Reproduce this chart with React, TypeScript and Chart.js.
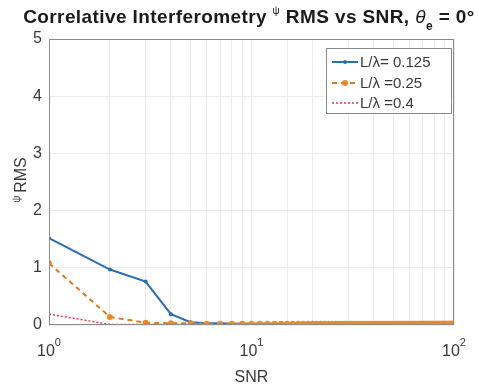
import React, { useEffect, useRef } from "react";
import { Chart, registerables } from "chart.js";

Chart.register(...registerables);

const snr = [
  1, 2, 3, 4, 5, 6, 7, 8, 9, 10, 11, 12, 13, 14, 15, 16, 17, 18, 19, 20,
  21, 22, 23, 24, 25, 26, 27, 28, 29, 30, 31, 32, 33, 34, 35, 36, 37, 38, 39, 40,
  41, 42, 43, 44, 45, 46, 47, 48, 49, 50, 51, 52, 53, 54, 55, 56, 57, 58, 59, 60,
  61, 62, 63, 64, 65, 66, 67, 68, 69, 70, 71, 72, 73, 74, 75, 76, 77, 78, 79, 80,
  81, 82, 83, 84, 85, 86, 87, 88, 89, 90, 91, 92, 93, 94, 95, 96, 97, 98, 99, 100,
];

const rmsL0125 = [
  1.52, 0.97, 0.76, 0.19, 0.05, 0.03, 0.03, 0.02, 0.02, 0.02, 0.02, 0.02, 0.02, 0.02, 0.02, 0.02, 0.02, 0.02, 0.02, 0.02,
  0.02, 0.02, 0.02, 0.02, 0.02, 0.02, 0.02, 0.02, 0.02, 0.02, 0.02, 0.02, 0.02, 0.02, 0.02, 0.02, 0.02, 0.02, 0.02, 0.02,
  0.02, 0.02, 0.02, 0.02, 0.02, 0.02, 0.02, 0.02, 0.02, 0.02, 0.02, 0.02, 0.02, 0.02, 0.02, 0.02, 0.02, 0.02, 0.02, 0.02,
  0.02, 0.02, 0.02, 0.02, 0.02, 0.02, 0.02, 0.02, 0.02, 0.02, 0.02, 0.02, 0.02, 0.02, 0.02, 0.02, 0.02, 0.02, 0.02, 0.02,
  0.02, 0.02, 0.02, 0.02, 0.02, 0.02, 0.02, 0.02, 0.02, 0.02, 0.02, 0.02, 0.02, 0.02, 0.02, 0.02, 0.02, 0.02, 0.02, 0.02,
];

const rmsL025 = [
  1.08, 0.14, 0.04, 0.03, 0.03, 0.02, 0.02, 0.02, 0.02, 0.02, 0.02, 0.02, 0.02, 0.02, 0.02, 0.02, 0.02, 0.02, 0.02, 0.02,
  0.02, 0.02, 0.02, 0.02, 0.02, 0.02, 0.02, 0.02, 0.02, 0.02, 0.02, 0.02, 0.02, 0.02, 0.02, 0.02, 0.02, 0.02, 0.02, 0.02,
  0.02, 0.02, 0.02, 0.02, 0.02, 0.02, 0.02, 0.02, 0.02, 0.02, 0.02, 0.02, 0.02, 0.02, 0.02, 0.02, 0.02, 0.02, 0.02, 0.02,
  0.02, 0.02, 0.02, 0.02, 0.02, 0.02, 0.02, 0.02, 0.02, 0.02, 0.02, 0.02, 0.02, 0.02, 0.02, 0.02, 0.02, 0.02, 0.02, 0.02,
  0.02, 0.02, 0.02, 0.02, 0.02, 0.02, 0.02, 0.02, 0.02, 0.02, 0.02, 0.02, 0.02, 0.02, 0.02, 0.02, 0.02, 0.02, 0.02, 0.02,
];

const rmsL04 = [
  0.19, 0.01, 0.01, 0.01, 0.01, 0.01, 0.01, 0.01, 0.01, 0.01, 0.01, 0.01, 0.01, 0.01, 0.01, 0.01, 0.01, 0.01, 0.01, 0.01,
  0.01, 0.01, 0.01, 0.01, 0.01, 0.01, 0.01, 0.01, 0.01, 0.01, 0.01, 0.01, 0.01, 0.01, 0.01, 0.01, 0.01, 0.01, 0.01, 0.01,
  0.01, 0.01, 0.01, 0.01, 0.01, 0.01, 0.01, 0.01, 0.01, 0.01, 0.01, 0.01, 0.01, 0.01, 0.01, 0.01, 0.01, 0.01, 0.01, 0.01,
  0.01, 0.01, 0.01, 0.01, 0.01, 0.01, 0.01, 0.01, 0.01, 0.01, 0.01, 0.01, 0.01, 0.01, 0.01, 0.01, 0.01, 0.01, 0.01, 0.01,
  0.01, 0.01, 0.01, 0.01, 0.01, 0.01, 0.01, 0.01, 0.01, 0.01, 0.01, 0.01, 0.01, 0.01, 0.01, 0.01, 0.01, 0.01, 0.01, 0.01,
];

const seriesLabels = ["L/\u03bb= 0.125", "L/\u03bb =0.25", "L/\u03bb =0.4"];
const yTicks = [0, 1, 2, 3, 4, 5];
const xDecades = [0, 1, 2];

const FONT = "'Liberation Sans', Arial, sans-serif";
const TEXT = "#3a3a3a";

const decorPlugin = {
  id: "decor",
  afterDraw(chart: any) {
    const ctx = chart.ctx as CanvasRenderingContext2D;
    const area = chart.chartArea;
    const xs = chart.scales.x;
    ctx.save();

    // axis box
    ctx.strokeStyle = "#8a8a8a";
    ctx.lineWidth = 1;
    ctx.strokeRect(area.left + 0.5, area.top + 0.5, area.right - area.left - 1, area.bottom - area.top - 1);

    // title
    ctx.fillStyle = "#1a1a1a";
    ctx.textBaseline = "alphabetic";
    (ctx as any).letterSpacing = "0.4px";
    const bold = (s: number) => `bold ${s}px ${FONT}`;
    const parts: { t: string; f: string; dy: number }[] = [
      { t: "Correlative Interferometry ", f: bold(19), dy: 0 },
      { t: "\u03c8", f: `${10}px ${FONT}`, dy: -9 },
      { t: " RMS vs SNR, ", f: bold(19), dy: 0 },
      { t: "\u03b8", f: `italic 19px ${FONT}`, dy: 0 },
      { t: "e", f: bold(12), dy: 7 },
      { t: " = 0\u00b0", f: bold(19), dy: 0 },
    ];
    let total = 0;
    for (const p of parts) {
      ctx.font = p.f;
      total += ctx.measureText(p.t).width;
    }
    let tx = 249 - total / 2;
    const ty = 23;
    ctx.textAlign = "left";
    for (const p of parts) {
      ctx.font = p.f;
      ctx.fillText(p.t, tx, ty + p.dy);
      tx += ctx.measureText(p.t).width;
    }
    (ctx as any).letterSpacing = "0px";

    // x tick labels 10^n
    ctx.fillStyle = TEXT;
    for (const d of xDecades) {
      const px = xs.getPixelForValue(Math.pow(10, d));
      ctx.font = `16px ${FONT}`;
      const bw = ctx.measureText("10").width;
      ctx.font = `11px ${FONT}`;
      const ew = ctx.measureText(String(d)).width;
      const sx = px - (bw + ew) / 2;
      ctx.font = `16px ${FONT}`;
      ctx.fillText("10", sx, 356);
      ctx.font = `11px ${FONT}`;
      ctx.fillText(String(d), sx + bw, 346);
    }

    // x axis title
    ctx.font = `16px ${FONT}`;
    ctx.textAlign = "center";
    ctx.fillText("SNR", (area.left + area.right) / 2, 382);

    // y axis title
    ctx.save();
    ctx.translate(26, 180);
    ctx.rotate(-Math.PI / 2);
    ctx.font = `10px ${FONT}`;
    const pw = ctx.measureText("\u03c8 ").width;
    ctx.font = `16px ${FONT}`;
    const rw = ctx.measureText("RMS").width;
    const yx = -(pw + rw) / 2;
    ctx.textAlign = "left";
    ctx.font = `10px ${FONT}`;
    ctx.fillText("\u03c8 ", yx, -6);
    ctx.font = `16px ${FONT}`;
    ctx.fillText("RMS", yx + pw, 0);
    ctx.restore();

    // legend
    const lx = 326, ly = 48, lw = 125, lh = 65;
    ctx.fillStyle = "#ffffff";
    ctx.fillRect(lx, ly, lw, lh);
    ctx.strokeStyle = "#8a8a8a";
    ctx.lineWidth = 1;
    ctx.strokeRect(lx + 0.5, ly + 0.5, lw, lh);
    const rows = [62, 83, 103];
    chart.data.datasets.forEach((ds: any, i: number) => {
      const y = rows[i];
      ctx.strokeStyle = ds.borderColor;
      ctx.lineWidth = ds.borderWidth;
      ctx.setLineDash(ds.borderDash || []);
      ctx.beginPath();
      ctx.moveTo(332, y);
      ctx.lineTo(358, y);
      ctx.stroke();
      ctx.setLineDash([]);
      if (ds.pointRadius > 0) {
        ctx.fillStyle = ds.pointBackgroundColor;
        ctx.beginPath();
        ctx.arc(345, y, ds.pointRadius, 0, Math.PI * 2);
        ctx.fill();
      }
      ctx.fillStyle = TEXT;
      ctx.font = `15px ${FONT}`;
      ctx.textAlign = "left";
      ctx.textBaseline = "middle";
      ctx.fillText(ds.label, 360, y + 1);
      ctx.textBaseline = "alphabetic";
    });

    ctx.restore();
  },
};

export default function App() {
  const ref = useRef<HTMLCanvasElement | null>(null);

  useEffect(() => {
    document.body.style.margin = "0";
    const canvas = ref.current;
    if (!canvas) return;
    const mk = (ys: number[]) => snr.map((x, i) => ({ x, y: ys[i] }));
    const chart = new Chart(canvas, {
      type: "line",
      data: {
        datasets: [
          {
            label: seriesLabels[0],
            data: mk(rmsL0125),
            borderColor: "#2a6db0",
            backgroundColor: "#2a6db0",
            pointBackgroundColor: "#2a6db0",
            pointBorderWidth: 0,
            borderWidth: 2,
            pointRadius: 2,
            order: 3,
          },
          {
            label: seriesLabels[1],
            data: mk(rmsL025),
            borderColor: "#e07b1a",
            backgroundColor: "#e07b1a",
            pointBackgroundColor: "#e8892a",
            pointBorderWidth: 0,
            borderWidth: 2,
            borderDash: [5, 4],
            pointRadius: 3,
            order: 1,
          },
          {
            label: seriesLabels[2],
            data: mk(rmsL04),
            borderColor: "#ee3344",
            backgroundColor: "#ee3344",
            borderWidth: 1.5,
            borderDash: [2, 2],
            pointRadius: 0,
            order: 2,
          },
        ],
      },
      options: {
        animation: false,
        responsive: false,
        devicePixelRatio: 1,
        layout: { padding: { left: 0, right: 25, top: 39, bottom: 0 } },
        plugins: {
          legend: { display: false },
          title: { display: false },
          tooltip: { enabled: false },
        },
        scales: {
          x: {
            type: "logarithmic",
            min: 1,
            max: 100,
            grid: { color: "#ececec", drawTicks: false },
            border: { display: false },
            ticks: { display: false, autoSkip: false },
            afterFit: (s: any) => {
              s.height = 61;
            },
          },
          y: {
            min: 0,
            max: 5,
            afterBuildTicks: (s: any) => {
              s.ticks = yTicks.map((v) => ({ value: v }));
            },
            grid: { color: "#ececec", drawTicks: false },
            border: { display: false },
            ticks: {
              color: TEXT,
              font: { family: FONT, size: 16 },
              padding: 7,
            },
            afterFit: (s: any) => {
              s.width = 49;
            },
          },
        },
      },
      plugins: [decorPlugin],
    });
    return () => chart.destroy();
  }, []);

  return <canvas ref={ref} width={479} height={386} style={{ display: "block" }} />;
}
